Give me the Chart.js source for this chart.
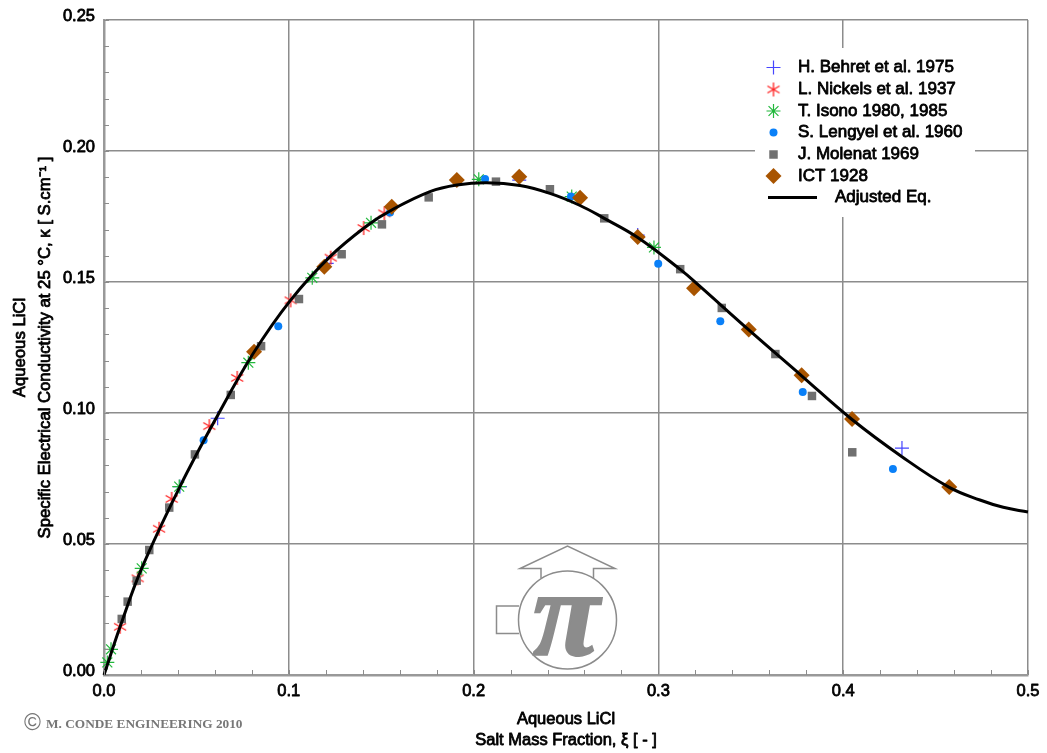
<!DOCTYPE html>
<html>
<head>
<meta charset="utf-8">
<title>Aqueous LiCl conductivity</title>
<script src="https://cdn.jsdelivr.net/npm/chart.js@4"></script>
<style>
  html, body { margin: 0; padding: 0; background: #fff; }
  canvas { display: block; }
</style>
</head>
<body>
<canvas id="grafico" width="1047" height="753"></canvas>
<script>
// valores: [fracao massica, condutividade]
const behret = [[.0411,.0719],[.0615,.0980],[.1205,.1571],[.2247,.1889],[.2888,.1679],[.4318,.0866]];
const nickels = [[.0087,.0184],[.0182,.0369],[.0298,.0558],[.0366,.0672],[.0570,.0950],[.0721,.1134],[.1010,.1430],[.1227,.1593],[.1405,.1706],[.1517,.1762]];
const isono = [[.0018,.0048],[.0038,.0098],[.0204,.0407],[.0407,.0719],[.0781,.1192],[.1127,.1516],[.1445,.1726],[.2028,.1892],[.2531,.1826],[.2976,.1632]];
const lengyel = [[.0539,.0896],[.0943,.1331],[.1548,.1765],[.2062,.1893],[.2527,.1826],[.2999,.1570],[.3335,.1350],[.3781,.1080],[.4269,.0786]];
const molenat = [[.0096,.0214],[.0128,.0280],[.0177,.0360],[.0245,.0477],[.0353,.0639],[.0492,.0842],[.0686,.1069],[.0850,.1255],[.1055,.1435],[.1286,.1606],[.1504,.1720],[.1757,.1823],[.2121,.1883],[.2413,.1854],[.2707,.1743],[.3118,.1549],[.3343,.1401],[.3633,.1225],[.3831,.1065],[.4049,.0850]];
const ict = [[.0812,.1234],[.1192,.1558],[.1557,.1787],[.1909,.1889],[.2247,.1902],[.2576,.1822],[.2888,.1672],[.3193,.1476],[.3489,.1319],[.3775,.1144],[.4048,.0977],[.4574,.0718]];
const curva = [[0,0],[.0087,.0184],[.0204,.0407],[.0411,.0719],[.0601,.0973],[.0808,.1228],[.101,.1431],[.1223,.1597],[.1421,.1714],[.1557,.1775],[.1764,.1845],[.1909,.187],[.2071,.1879],[.2251,.1868],[.2413,.1838],[.2576,.1792],[.2707,.1743],[.2888,.167],[.3118,.1548],[.3216,.1489],[.3486,.1319],[.3775,.1142],[.4046,.0976],[.4318,.0833],[.4574,.0716],[.474,.0668],[.4866,.064],[.5,.0622]];

const nomes = ['H. Behret et al. 1975','L. Nickels et al. 1937','T. Isono 1980, 1985','S. Lengyel et al. 1960','J. Molenat 1969','ICT 1928','Adjusted Eq.'];
const tituloX = ['Aqueous LiCl','Salt Mass Fraction, ξ [ - ]'];
const tituloY = ['Aqueous LiCl','Specific Electrical Conductivity at 25 °C, κ [ S.cm⁻¹ ]'];
const copyright = 'M. CONDE ENGINEERING 2010';

const FONTE = '"Liberation Sans", Arial, sans-serif';
const CINZA = '#8c8c8c';

// asterisco de 6 bracos, o chart.js nao tem esse simbolo
function asterisco(cor, r) {
  const c = document.createElement('canvas');
  c.width = c.height = 2 * r + 2;
  const g = c.getContext('2d');
  g.strokeStyle = cor;
  g.lineWidth = 1.3;
  for (let i = 0; i < 3; i++) {
    const a = Math.PI / 2 + i * Math.PI / 3;
    g.beginPath();
    g.moveTo(r + 1 - r * Math.cos(a), r + 1 - r * Math.sin(a));
    g.lineTo(r + 1 + r * Math.cos(a), r + 1 + r * Math.sin(a));
    g.stroke();
  }
  return c;
}

function pontos(d) { return d.map(p => ({ x: p[0], y: p[1] })); }

function serie(i, d, estilo, raio, cor, borda, ordem) {
  return {
    label: nomes[i], data: pontos(d), showLine: false, order: ordem,
    pointStyle: estilo, pointRadius: raio, pointHoverRadius: raio,
    pointBackgroundColor: cor, pointBorderColor: cor, pointBorderWidth: borda,
    clip: false
  };
}

// o texto do original parece negrito falso: regular com um contorno fino
function engrossa(g) {
  const fill = g.fillText;
  g.fillText = function (t, x, y, m) {
    fill.call(this, t, x, y, m);
    if (this.fillStyle === '#000000') {
      this.save();
      this.strokeStyle = '#000';
      this.lineWidth = .8;
      this.lineJoin = 'round';
      this.strokeText(t, x, y, m);
      this.restore();
    }
  };
}

// ticks menores para dentro, logo em volta e legenda
const extras = {
  id: 'extras',
  beforeDatasetsDraw(chart) {
    const g = chart.ctx;
    g.save();
    g.fillStyle = '#fff';
    g.fillRect(755, 48, 220, 169);
    g.restore();
    desenhaLogo(g);
  },
  afterDatasetsDraw(chart) {
    const g = chart.ctx, a = chart.chartArea;
    const sx = chart.scales.x, sy = chart.scales.y;
    g.save();
    g.strokeStyle = CINZA;
    g.lineWidth = 1;
    sx.ticks.forEach(t => {
      const px = Math.round(sx.getPixelForValue(t.value)) + .5;
      g.beginPath(); g.moveTo(px, a.bottom); g.lineTo(px, a.bottom - 5); g.stroke();
    });
    sy.ticks.forEach(t => {
      const py = Math.round(sy.getPixelForValue(t.value)) + .5;
      g.beginPath(); g.moveTo(a.left, py); g.lineTo(a.left + 5, py); g.stroke();
    });
    g.restore();
    desenhaLegenda(chart);
    g.save();
    g.fillStyle = '#777';
    g.textBaseline = 'middle';
    g.font = 'bold 13.3px "Liberation Serif", serif';
    g.fillText(copyright, 46, 725);
    g.font = '23px "Liberation Sans", sans-serif';
    g.fillText('©', 24, 724);
    g.restore();
  }
};

function desenhaLogo(g) {
  g.save();
  g.strokeStyle = CINZA;
  g.lineWidth = 1.5;
  g.beginPath();
  g.moveTo(541, 578); g.lineTo(541, 568.5); g.lineTo(520, 568.5); g.lineTo(567.5, 546);
  g.lineTo(615, 568.5); g.lineTo(593.5, 568.5); g.lineTo(593.5, 578);
  g.stroke();
  g.beginPath();
  g.moveTo(519, 606); g.lineTo(496.5, 606); g.lineTo(496.5, 633.5); g.lineTo(519, 633.5);
  g.stroke();
  g.beginPath(); g.arc(567.5, 620, 49, 0, Math.PI * 2); g.stroke();
  g.fillStyle = CINZA;
  g.textAlign = 'center';
  g.textBaseline = 'alphabetic';
  g.font = 'italic bold 122px "Liberation Serif", serif';
  g.fillText('π', 566, 655);
  g.lineWidth = 2;
  g.strokeText('π', 566, 655);
  g.restore();
}

function desenhaLegenda(chart) {
  const g = chart.ctx;
  const linhas = [67.5, 89.5, 111, 132.5, 154.5, 176];
  g.save();
  g.textBaseline = 'middle';
  g.textAlign = 'left';
  g.font = '17px ' + FONTE;
  linhas.forEach((y, i) => {
    const o = chart.data.datasets[i];
    g.fillStyle = o.pointBackgroundColor;
    g.strokeStyle = o.pointBorderColor;
    g.lineWidth = o.pointBorderWidth;
    Chart.helpers.drawPoint(g, {
      pointStyle: o.pointStyle, radius: o.pointRadius, rotation: 0,
      borderWidth: o.pointBorderWidth
    }, 773.5, y);
    g.fillStyle = '#000';
    g.fillText(nomes[i], 798, y);
  });
  g.strokeStyle = '#000';
  g.lineWidth = 3;
  g.beginPath(); g.moveTo(768, 197.5); g.lineTo(817, 197.5); g.stroke();
  g.fillText(nomes[6], 835, 197.5);
  g.restore();
}

const canvas = document.getElementById('grafico');
engrossa(canvas.getContext('2d'));

new Chart(canvas, {
  type: 'scatter',
  plugins: [extras],
  data: {
    datasets: [
      serie(0, behret, 'cross', 7, '#4646ff', 1.2, 6),
      serie(1, nickels, asterisco('#ff2020', 7), 7, '#ff2020', 1, 5),
      serie(2, isono, 'star', 7, '#22b83c', 1.2, 4),
      serie(3, lengyel, 'circle', 4, '#0a80f8', 0, 3),
      serie(4, molenat, 'rect', 6, '#707070', 0, 2),
      serie(5, ict, 'rectRot', 8, '#a85400', 0, 1),
      {
        label: nomes[6], data: pontos(curva), showLine: true, order: 0,
        borderColor: '#000', borderWidth: 3, tension: .4,
        pointRadius: 0, pointHoverRadius: 0, clip: false
      }
    ]
  },
  options: {
    responsive: false,
    animation: false,
    layout: { padding: { top: 20, right: 19, left: 0, bottom: 0 } },
    plugins: { legend: { display: false }, tooltip: { enabled: false } },
    scales: {
      x: {
        type: 'linear', min: 0, max: .5,
        afterFit(s) { s.height = 78; },
        ticks: {
          stepSize: .02, autoSkip: false, maxRotation: 0, color: '#000', padding: 7,
          font: { family: FONTE, size: 16.5 },
          callback: v => Math.round(v * 100) % 10 === 0 ? v.toFixed(1) : ''
        },
        grid: {
          drawTicks: false, lineWidth: 1.5,
          color: c => Math.round(c.tick.value * 100) % 10 === 0 ? CINZA : 'transparent'
        },
        border: { color: '#999', width: 2.5 },
        title: {
          display: true, text: tituloX, color: '#000', padding: { top: 0, bottom: 2 },
          font: { family: FONTE, size: 16.5, lineHeight: 1.27 }
        }
      },
      y: {
        type: 'linear', min: 0, max: .25,
        afterFit(s) { s.width = 104; },
        ticks: {
          stepSize: .01, autoSkip: false, color: '#000', padding: 9, labelOffset: -4,
          font: { family: FONTE, size: 16.5 },
          callback: v => Math.round(v * 100) % 5 === 0 ? v.toFixed(2) : ''
        },
        grid: {
          drawTicks: false, lineWidth: 1.5,
          color: c => Math.round(c.tick.value * 100) % 5 === 0 ? CINZA : 'transparent'
        },
        border: { color: '#999', width: 2.5 },
        title: {
          display: true, text: tituloY, color: '#000', padding: { top: 8, bottom: 0 },
          font: { family: FONTE, size: 16.7, lineHeight: 1.5 }
        }
      }
    }
  }
});
</script>
</body>
</html>
